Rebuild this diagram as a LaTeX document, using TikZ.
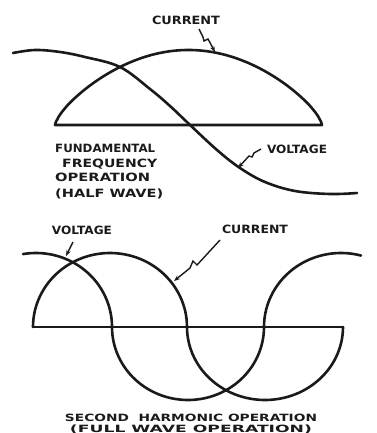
\documentclass[tikz,border=0pt]{standalone}
\usepackage{fontspec}
\usepackage{graphicx}
\usetikzlibrary{arrows.meta}
\newfontfamily\lettering{DejaVu Sans}
\definecolor{ink}{HTML}{1A1A1A}
\newcommand\lettw[2]{\resizebox{#1}{\height}{#2}}
\begin{document}
\begin{tikzpicture}[x=1pt,y=-1pt,
  wave/.style={ink,line width=2.6pt,line join=round,line cap=round},
  pointer/.style={ink,line width=1.4pt,line join=miter,-{Stealth[length=6pt,width=4.5pt]}},
  lbl/.style={inner sep=0pt,text=ink,font=\lettering\bfseries\fontsize{11.4}{13}\selectfont},
  slbl/.style={inner sep=0pt,text=ink,font=\lettering\bfseries\fontsize{10}{12}\selectfont}]
\useasboundingbox (0,0) rectangle (376,433);

% ---------- top: fundamental frequency ----------
\draw[wave] (55,125) -- (322,125) --
  plot[domain=89.5:-89.5,samples=90] ({188.5+133.5*\x/90},{125-75*pow(cos(\x),0.7)}) -- cycle;
\draw[wave] plot[smooth,tension=0.6] coordinates {(13,53) (35,50) (60,52) (85,57) (120,67) (150,89) (170,106) (189,124) (217,150) (240,168) (265,182) (295,191) (330,194) (357,193)};

\node[lbl,anchor=base] (tcur) at (186,25) {\lettw{68pt}{CURRENT}};
\node[lbl,anchor=base] (tvol) at (297,153) {\lettw{60pt}{VOLTAGE}};
\node[lbl,anchor=base west] (f1) at (55,152) {\lettw{100pt}{FUNDAMENTAL}};
\node[lbl,anchor=base west] (f2) at (62,167) {\lettw{95pt}{FREQUENCY}};
\node[lbl,anchor=base west] (f3) at (55,181) {\lettw{95pt}{OPERATION}};
\node[lbl,anchor=base west] (f4) at (55,197) {\lettw{108pt}{(HALF WAVE)}};

\coordinate (tcs) at (199,29);
\coordinate (tct) at (215,52);
\draw[pointer] (tcs) -- (203,37) -- (204,41) -- (208,39) -- (tct);
\coordinate (tvs) at (261,149);
\coordinate (tvt) at (238,168);
\draw[pointer] (tvs) -- (254,153) -- (252,157) -- (249,156) -- (tvt);

% ---------- bottom: second harmonic ----------
\draw[wave] (33,327) -- (343,327);
\draw[wave] plot[domain=180:360,samples=60] ({110+77*cos(\x)},{327+74*sin(\x)})
  -- plot[domain=180:0,samples=60] ({265+78*cos(\x)},{327+73*sin(\x)});
\draw[wave] plot[domain=99.85:0,samples=50] ({36+76*cos(\x)},{327-74*sin(\x)})
  -- plot[domain=180:0,samples=60] ({188+76*cos(\x)},{327+73*sin(\x)})
  -- plot[domain=180:74.9,samples=50] ({341+77*cos(\x)},{327-74*sin(\x)});

\node[lbl,anchor=base] (bvol) at (82,234) {\lettw{60pt}{VOLTAGE}};
\node[lbl,anchor=base] (bcur) at (255,233) {\lettw{66pt}{CURRENT}};
\node[slbl,anchor=base] (s1) at (191,421.5) {\lettw{252pt}{SECOND\ \ HARMONIC OPERATION}};
\node[slbl,anchor=base] (s2) at (191,432) {\lettw{242pt}{(FULL WAVE OPERATION)}};

\coordinate (bvs) at (73,242);
\coordinate (bvt) at (66,256);
\draw[pointer] (bvs) -- (bvt);
\coordinate (bcs) at (220,240);
\coordinate (bct) at (174,281);
\draw[pointer] (bcs) -- (197,265) -- (193,261) -- (190,268) -- (bct);
\end{tikzpicture}
\end{document}
